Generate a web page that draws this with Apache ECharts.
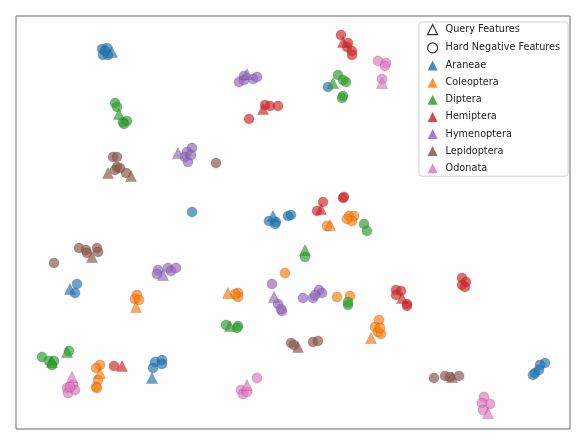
<!DOCTYPE html>
<html><head><meta charset="utf-8">
<script src="https://cdn.jsdelivr.net/npm/echarts@6/dist/echarts.min.js"></script>
<style>html,body{margin:0;padding:0;background:#fff}#c{width:580px;height:441px}</style>
</head><body><div id="c"></div>
<script>
// Embedding coordinates (in plot units)
const speciesNames = ['Araneae','Coleoptera','Diptera','Hemiptera','Hymenoptera','Lepidoptera','Odonata'];
const speciesColors = ['#1f77b4','#ff7f0e','#2ca02c','#d62728','#9467bd','#8c564b','#e377c2'];

const araneaeQuery = [[112,52],[70,289],[152,378],[273,216]];
const araneaeNeg = [[102,49],[107,48],[103,55],[108,55],[105,51],[192,212],[328,87],[77,284],[75,293],[155,362],[162,360],[162,364],[153,368],[269,221],[276,222],[275,224],[288,216],[291,215],[545,363],[540,365],[535,373],[533,375],[539,370]];

const coleopteraQuery = [[136,307],[100,373],[330,225],[228,293],[371,338]];
const coleopteraNeg = [[137,295],[135,299],[139,300],[100,365],[96,368],[98,380],[96,387],[97,388],[327,226],[349,216],[354,216],[352,221],[347,219],[285,273],[238,293],[238,297],[235,294],[337,297],[350,296],[379,320],[375,327],[378,332],[381,334],[380,328]];

const dipteraQuery = [[119,114],[52,362],[67,352],[333,83],[305,250],[230,326]];
const dipteraNeg = [[115,103],[117,107],[123,122],[127,121],[124,124],[42,357],[49,361],[54,361],[52,365],[69,351],[338,75],[343,80],[346,82],[343,96],[342,98],[364,224],[367,231],[305,257],[348,305],[348,302],[226,325],[238,326],[237,328]];

const hemipteraQuery = [[263,109],[343,42],[321,209],[122,366],[402,298]];
const hemipteraNeg = [[265,105],[270,106],[278,106],[249,119],[341,35],[348,43],[347,47],[352,51],[352,55],[323,202],[317,211],[343,198],[344,197],[114,366],[462,278],[466,282],[462,285],[465,287],[396,290],[401,291],[396,295],[407,304],[407,306]];

const hymenopteraQuery = [[247,74],[178,153],[163,275],[274,297]];
const hymenopteraNeg = [[239,82],[244,76],[244,80],[253,79],[257,77],[192,148],[185,157],[188,162],[187,152],[191,155],[158,270],[157,274],[168,268],[171,271],[176,268],[272,284],[278,304],[282,311],[281,309],[303,298],[313,298],[319,290],[322,293],[315,295]];

const lepidopteraQuery = [[108,173],[131,176],[92,257],[298,347],[452,377]];
const lepidopteraNeg = [[113,157],[117,157],[117,167],[115,170],[126,173],[120,168],[216,163],[79,248],[86,250],[87,253],[97,248],[98,252],[54,263],[291,343],[294,345],[313,342],[318,341],[434,378],[445,376],[450,377],[459,376]];

const odonataQuery = [[382,83],[72,377],[247,385],[488,413]];
const odonataNeg = [[378,61],[386,63],[385,66],[382,79],[67,388],[73,385],[68,393],[75,390],[70,387],[257,378],[241,390],[243,394],[247,392],[484,397],[490,404],[482,403],[483,410]];

const queryLists = [araneaeQuery,coleopteraQuery,dipteraQuery,hemipteraQuery,hymenopteraQuery,lepidopteraQuery,odonataQuery];
const negLists = [araneaeNeg,coleopteraNeg,dipteraNeg,hemipteraNeg,hymenopteraNeg,lepidopteraNeg,odonataNeg];
const legendLabels = ['Query Features','Hard Negative Features'].concat(speciesNames);

const chart = echarts.init(document.getElementById('c'), null, {renderer:'canvas'});
const series = [];
series.push({name:'Query Features', type:'scatter', data:[], symbol:'triangle',
  itemStyle:{color:'#ffffff', borderColor:'#000', borderWidth:1}});
series.push({name:'Hard Negative Features', type:'scatter', data:[], symbol:'circle',
  itemStyle:{color:'#ffffff', borderColor:'#000', borderWidth:1}});
speciesNames.forEach((n,i)=>{
  const data = [];
  negLists[i].forEach(p=>data.push({value:p, symbol:'circle', symbolSize:10}));
  queryLists[i].forEach(p=>data.push({value:p, symbol:'triangle', symbolSize:11}));
  series.push({name:n, type:'scatter', symbol:'triangle', data:data,
    itemStyle:{color:speciesColors[i], opacity:0.68, borderColor:'rgba(40,40,40,0.45)', borderWidth:0.6},
    emphasis:{disabled:true}});
});

chart.setOption({
  animation:false,
  backgroundColor:'#ffffff',
  grid:{left:16, right:10, top:16, bottom:12, show:true, borderColor:'#6a6a6a', borderWidth:1, backgroundColor:'#fefefe'},
  xAxis:{type:'value', min:16, max:570, show:false},
  yAxis:{type:'value', min:16, max:429, inverse:true, show:false},
  legend:{
    orient:'vertical', left:419, top:22,
    padding:[2,8,3,8], itemWidth:10, itemHeight:10, itemGap:7.1,
    backgroundColor:'#ffffff', borderColor:'#d0d0d0', borderWidth:1, borderRadius:3,
    textStyle:{fontFamily:'DejaVu Sans', fontSize:9.7, color:'#222', padding:[0,0,0,3]},
    data: legendLabels.map((n,i)=>{
      if(i===0) return {name:n, icon:'triangle', itemStyle:{color:'#fff', borderColor:'#000', borderWidth:1.2}};
      if(i===1) return {name:n, icon:'circle', itemStyle:{color:'#fff', borderColor:'#000', borderWidth:1.2}};
      return {name:n, icon:'triangle', itemStyle:{color:speciesColors[i-2], opacity:0.85, borderWidth:0}};
    }),
    selectedMode:false
  },
  series:series
});
</script></body></html>
